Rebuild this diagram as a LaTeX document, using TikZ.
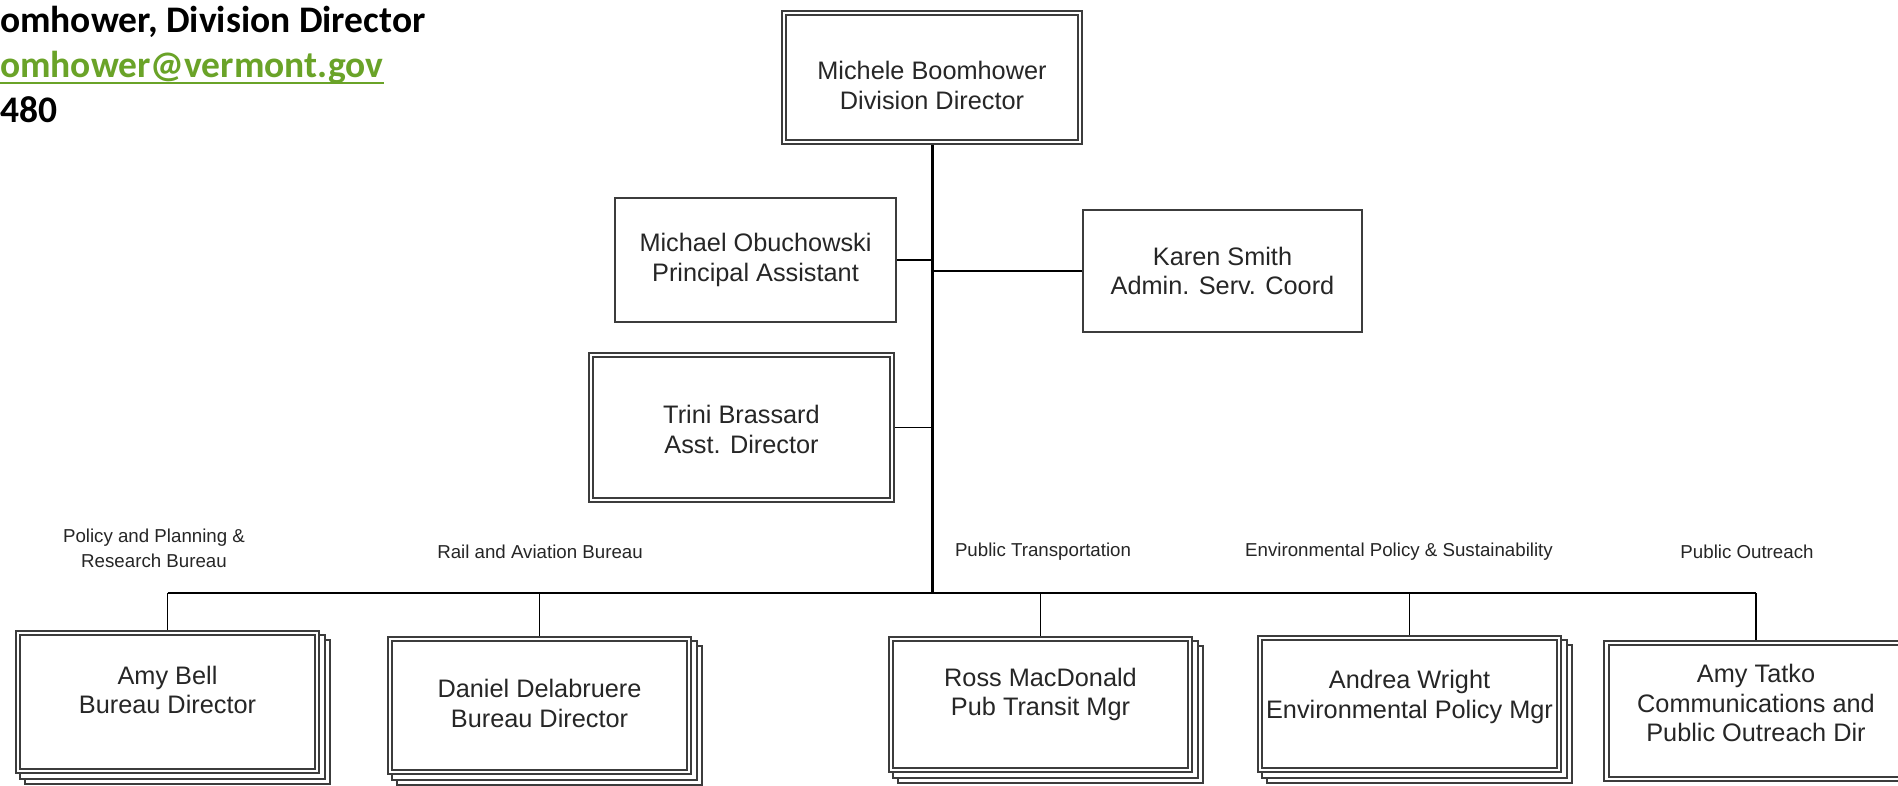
\documentclass[tikz,border=0pt]{standalone}
\usepackage{fontspec}
\setmainfont{Liberation Sans}
\newfontfamily\calfont{Carlito}
\usetikzlibrary{calc}
\pgfdeclarelayer{bg}
\pgfsetlayers{bg,main}
\definecolor{linkgreen}{RGB}{106,163,40}
\definecolor{boxline}{RGB}{60,60,60}
\begin{document}
\begin{tikzpicture}[x=1pt,y=-1pt,
  dbox/.style={draw=boxline, line width=1.8pt, double=white, double distance=2.6pt, fill=white, outer sep=3.1pt, inner sep=0pt},
  sbox/.style={draw=boxline, line width=1.5pt, fill=white, outer sep=0.75pt, inner sep=0pt},
  backbox/.style={draw=boxline, line width=1.6pt, fill=white},
  txt/.style={align=center, font=\fontsize{25.3}{29.5}\selectfont, text=black!85, inner sep=0pt},
  lbl/.style={align=center, font=\fontsize{18.7}{25}\selectfont, text=black!85, inner sep=0pt},
  head/.style={anchor=base west, inner sep=0pt, font=\calfont\bfseries\fontsize{37.5}{44}\selectfont},
  conn/.style={draw=black, line width=1.5pt},
  trunk/.style={draw=black, line width=3pt}
]
\useasboundingbox (0,0) rectangle (1898,786);
\begin{pgfonlayer}{bg}
\fill[white] (0,0) rectangle (1898,786);
\end{pgfonlayer}

% header text (partially cut off)
\node[head] (h1) at (0,33) {omhower, Division Director};
\node[head, text=linkgreen] (h2) at (0,78) {omhower@vermont.gov};
\node[head] (h3) at (0,123) {480};
\draw[linkgreen, line width=2pt] ([yshift=-5pt]h2.base west) -- ([yshift=-5pt]h2.base east);

% upper boxes
\node[dbox, minimum width=296pt, minimum height=129pt] (top) at (932,77.5) {};
\node[txt] (toptxt) at ([yshift=-8pt]top.center) {Michele Boomhower\\Division Director};

\node[sbox, minimum width=281pt, minimum height=124pt] (mich) at (755.5,260) {};
\node[txt] (michtxt) at (mich.center) {Michael Obuchowski\\Principal Assistant};

\node[sbox, minimum width=279pt, minimum height=122pt] (karen) at (1222.5,271) {};
\node[txt] (karentxt) at (karen.center) {Karen Smith\\Admin. Serv. Coord};

\node[dbox, minimum width=301pt, minimum height=145pt] (trini) at (741.5,427.5) {};
\node[txt] (trinitxt) at ([yshift=-2pt]trini.center) {Trini Brassard\\Asst. Director};

% lower boxes
\node[dbox, minimum width=299pt, minimum height=138pt] (amy) at (167.5,702) {};
\node[txt] (amytxt) at ([yshift=12pt]amy.center) {Amy Bell\\Bureau Director};

\node[dbox, minimum width=299pt, minimum height=133pt] (dan) at (539.5,705.5) {};
\node[txt] (dantxt) at ([yshift=2pt]dan.center) {Daniel Delabruere\\Bureau Director};

\node[dbox, minimum width=299pt, minimum height=131pt] (ross) at (1040.5,704.5) {};
\node[txt] (rosstxt) at ([yshift=10pt]ross.center) {Ross MacDonald\\Pub Transit Mgr};

\node[dbox, minimum width=299pt, minimum height=132pt] (andrea) at (1409.5,704) {};
\node[txt] (andreatxt) at ([yshift=7pt]andrea.center) {Andrea Wright\\Environmental Policy Mgr};

\node[dbox, minimum width=299pt, minimum height=136pt] (tatko) at (1756,711) {};
\node[txt] (tatkotxt) at ([yshift=8pt]tatko.center) {Amy Tatko\\Communications and\\Public Outreach Dir};

% stacked copies behind the lower boxes
\begin{pgfonlayer}{bg}
\foreach \b in {amy,dan,ross,andrea}{
  \path[backbox] ($(\b.north west)+(10,10)$) rectangle ($(\b.south east)+(10,10)$);
  \path[backbox] ($(\b.north west)+(5,5)$) rectangle ($(\b.south east)+(5,5)$);
}
\end{pgfonlayer}

% bureau labels
\node[lbl] (l1) at (154,548) {Policy and Planning \&\\Research Bureau};
\node[lbl] (l2) at (540,552) {Rail and Aviation Bureau};
\node[lbl] (l3) at (1043,552) {Public Transportation};
\node[lbl] (l4) at (1399,552) {Environmental Policy \& Sustainability};
\node[lbl] (l5) at (1747,552) {Public Outreach};

% connectors
\coordinate (bar) at (932,593);
\path[trunk] (top.south) -- (bar);
\path[conn] (mich.east) -- (mich.east -| top.south);
\path[conn] (karen.west) -- (karen.west -| top.south);
\path[conn] (trini.east) -- (trini.east -| top.south);
\path[conn, line width=2pt] (amy.north |- bar) -- (tatko.north |- bar);
\foreach \b in {amy,dan,ross,andrea,tatko}{
  \path[conn] (\b.north |- bar) -- (\b.north);
}
\end{tikzpicture}
\end{document}
